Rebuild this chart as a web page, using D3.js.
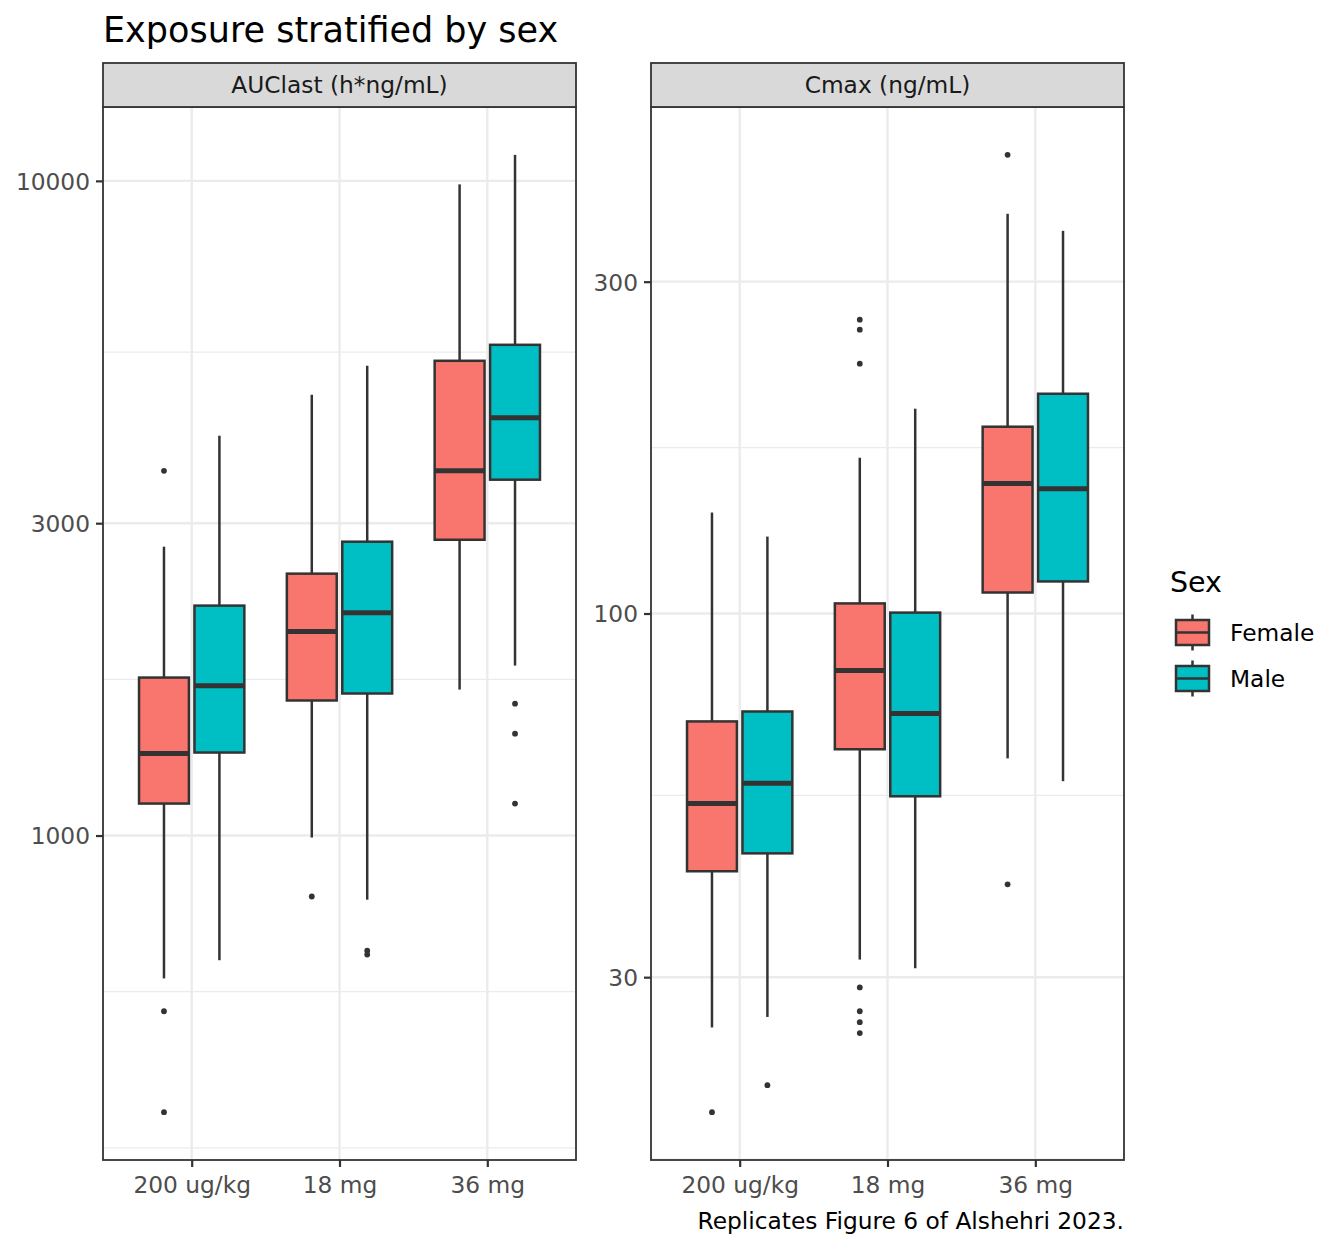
<!DOCTYPE html>
<html><head><meta charset="utf-8">
<script src="https://cdn.jsdelivr.net/npm/d3@7"></script>
<style>body{margin:0;background:#fff} text{font-family:"DejaVu Sans",sans-serif}</style>
</head><body><svg id="chart" width="1344" height="1248"></svg>
<script>
const params = ["AUClast (h*ng/mL)", "Cmax (ng/mL)"];
const doses = ["200 ug/kg", "18 mg", "36 mg"];
const sexes = ["Female", "Male"];
const sexColors = ["#F8766D", "#00BFC4"];
const aucTicks = [1000, 3000, 10000];
const cmaxTicks = [30, 100, 300];
// [lower whisker, Q1, median, Q3, upper whisker] per dose
const aucFemale = [[605,1119,1334,1743,2762],[993,1608,2049,2512,4713],[1671,2830,3606,5311,9878]];
const aucMale   = [[645,1339,1694,2245,4081],[798,1648,2190,2811,5219],[1818,3496,4346,5618,10958]];
const aucFemaleOut = [[3606,539,378],[807],[]];
const aucMaleOut   = [[],[667,658],[1590,1431,1119]];
const cmaxFemale = [[25.4,42.6,53.3,69.96,139.7],[31.8,63.8,82.8,103.4,167.5],[61.9,107.2,153.8,185.6,375.6]];
const cmaxMale   = [[26.3,45.2,57.0,72.3,129.0],[30.9,54.6,71.8,100.3,197],[57.4,111.2,151.2,207,355]];
const cmaxFemaleOut = [[19.19],[264.5,255.9,228.7,29.0,26.8,25.85,24.93],[456.5,40.8]];
const cmaxMaleOut   = [[20.98],[],[]];
const titleText = "Exposure stratified by sex";
const captionText = "Replicates Figure 6 of Alshehri 2023.";
const legendTitle = "Sex";

const panels = [
  {name: params[0], ticks: aucTicks, stats: [aucFemale, aucMale], outs: [aucFemaleOut, aucMaleOut]},
  {name: params[1], ticks: cmaxTicks, stats: [cmaxFemale, cmaxMale], outs: [cmaxFemaleOut, cmaxMaleOut]}
];

const svg = d3.select("#chart");
const panelTop = 107, panelBottom = 1160, stripTop = 63;
const panelLefts = [103, 651], panelW = 473;
const lineCol = "#333333", gridCol = "#EBEBEB";

function minorBreaks(ticks, dom) {
  let b = ticks.map(Math.log10);
  const bd = b[1] - b[0];
  if (dom[0] < b[0]) b = [b[0] - bd, ...b];
  if (dom[1] > b[b.length - 1]) b = [...b, b[b.length - 1] + bd];
  const out = [];
  for (let i = 0; i < b.length - 1; i++) out.push(b[i], (b[i] + b[i + 1]) / 2);
  out.push(b[b.length - 1]);
  const maj = ticks.map(Math.log10);
  return out.filter(v => v >= dom[0] && v <= dom[1] && !maj.some(m => Math.abs(m - v) < 1e-9));
}

panels.forEach((p, pi) => {
  const left = panelLefts[pi];
  const g = svg.append("g");
  const all = [];
  p.stats.forEach(s => s.forEach(a => all.push(a[0], a[4])));
  p.outs.forEach(s => s.forEach(a => all.push(...a)));
  let lo = Math.log10(d3.min(all)), hi = Math.log10(d3.max(all));
  const ex = (hi - lo) * 0.05; lo -= ex; hi += ex;
  const y = d3.scaleLog().domain([Math.pow(10, lo), Math.pow(10, hi)]).range([panelBottom, panelTop]);
  const x = d3.scalePoint().domain(doses).range([left, left + panelW]).padding(0.6);
  const step = x.step();

  g.append("rect").attr("x", left).attr("y", panelTop).attr("width", panelW).attr("height", panelBottom - panelTop).attr("fill", "#fff");
  minorBreaks(p.ticks, [lo, hi]).forEach(v => {
    const yy = y(Math.pow(10, v));
    g.append("line").attr("x1", left).attr("x2", left + panelW).attr("y1", yy).attr("y2", yy)
      .attr("stroke", gridCol).attr("stroke-width", 1.2);
  });
  p.ticks.forEach(t => {
    g.append("line").attr("x1", left).attr("x2", left + panelW).attr("y1", y(t)).attr("y2", y(t))
      .attr("stroke", gridCol).attr("stroke-width", 2.4);
  });
  doses.forEach(d => {
    g.append("line").attr("x1", x(d)).attr("x2", x(d)).attr("y1", panelTop).attr("y2", panelBottom)
      .attr("stroke", gridCol).attr("stroke-width", 2.4);
  });

  const boxW = 0.375 * 0.9 * step;
  sexes.forEach((s, si) => {
    const off = (si === 0 ? -0.1875 : 0.1875) * step;
    doses.forEach((d, di) => {
      const st = p.stats[si][di];
      const cx = x(d) + off;
      const bg = g.append("g");
      bg.append("line").attr("x1", cx).attr("x2", cx).attr("y1", y(st[3])).attr("y2", y(st[4]))
        .attr("stroke", lineCol).attr("stroke-width", 2.5);
      bg.append("line").attr("x1", cx).attr("x2", cx).attr("y1", y(st[1])).attr("y2", y(st[0]))
        .attr("stroke", lineCol).attr("stroke-width", 2.5);
      bg.append("rect").attr("x", cx - boxW / 2).attr("width", boxW)
        .attr("y", y(st[3])).attr("height", y(st[1]) - y(st[3]))
        .attr("fill", sexColors[si]).attr("stroke", lineCol).attr("stroke-width", 2.5);
      bg.append("line").attr("x1", cx - boxW / 2).attr("x2", cx + boxW / 2).attr("y1", y(st[2])).attr("y2", y(st[2]))
        .attr("stroke", lineCol).attr("stroke-width", 5);
      p.outs[si][di].forEach(o => {
        bg.append("circle").attr("cx", cx).attr("cy", y(o)).attr("r", 2.9).attr("fill", lineCol);
      });
    });
  });

  g.append("rect").attr("x", left).attr("y", panelTop).attr("width", panelW).attr("height", panelBottom - panelTop)
    .attr("fill", "none").attr("stroke", lineCol).attr("stroke-width", 1.8);
  g.append("rect").attr("x", left).attr("y", stripTop).attr("width", panelW).attr("height", panelTop - stripTop)
    .attr("fill", "#D9D9D9").attr("stroke", lineCol).attr("stroke-width", 1.8);
  g.append("text").attr("x", left + panelW / 2).attr("y", (stripTop + panelTop) / 2).attr("dy", "0.36em")
    .attr("text-anchor", "middle").attr("font-size", 23.3).attr("fill", "#1A1A1A").text(p.name);

  const ya = g.append("g").attr("transform", `translate(${left},0)`)
    .call(d3.axisLeft(y).tickValues(p.ticks).tickFormat(d3.format("d")).tickSize(7).tickPadding(6));
  const xa = g.append("g").attr("transform", `translate(0,${panelBottom})`)
    .call(d3.axisBottom(x).tickSize(7).tickPadding(6));
  [ya, xa].forEach(a => {
    a.select(".domain").remove();
    a.selectAll(".tick line").attr("stroke", lineCol).attr("stroke-width", 2.2);
    a.selectAll(".tick text").attr("fill", "#4D4D4D").attr("font-size", 23.3)
      .attr("font-family", "DejaVu Sans");
  });
  ya.selectAll(".tick text").attr("dy", "0.36em");
  xa.selectAll(".tick text").attr("dy", "0.86em");
});

svg.append("text").attr("x", 103).attr("y", 42).attr("font-size", 35).attr("fill", "#000").text(titleText);
svg.append("text").attr("x", 1124).attr("y", 1229).attr("text-anchor", "end").attr("font-size", 23.3).attr("fill", "#000").text(captionText);

const leg = svg.append("g");
leg.append("text").attr("x", 1170).attr("y", 592).attr("font-size", 28.5).attr("fill", "#000").text(legendTitle);
const keyY = d3.scalePoint().domain(sexes).range([632.5, 678.5]);
sexes.forEach((s, i) => {
  const cy = keyY(s), kx = 1176, kw = 33, kh = 25, cx = kx + kw / 2;
  leg.append("line").attr("x1", cx).attr("x2", cx).attr("y1", cy - 18).attr("y2", cy + 18)
    .attr("stroke", lineCol).attr("stroke-width", 2.5);
  leg.append("rect").attr("x", kx).attr("y", cy - kh / 2).attr("width", kw).attr("height", kh)
    .attr("fill", sexColors[i]).attr("stroke", lineCol).attr("stroke-width", 2.5);
  leg.append("line").attr("x1", kx).attr("x2", kx + kw).attr("y1", cy).attr("y2", cy)
    .attr("stroke", lineCol).attr("stroke-width", 2.5);
  leg.append("text").attr("x", 1230).attr("y", cy).attr("dy", "0.36em").attr("font-size", 23.3).attr("fill", "#000").text(s);
});
</script></body></html>
